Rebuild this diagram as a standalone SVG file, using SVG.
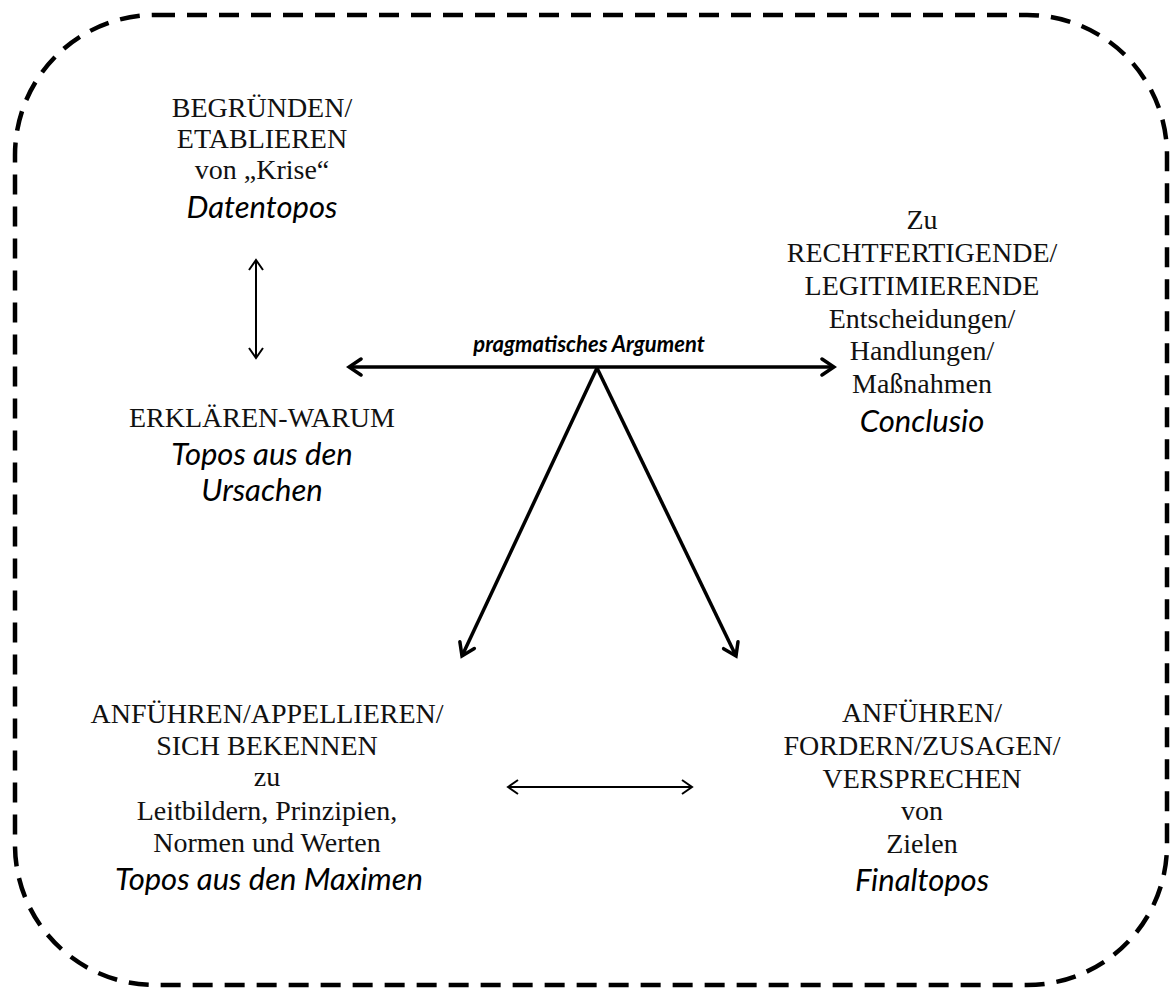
<svg xmlns="http://www.w3.org/2000/svg" width="1175" height="990" viewBox="0 0 1175 990">
<style>
.s{font-family:"Liberation Serif","Times New Roman",serif;font-size:28px;fill:#111;text-anchor:middle}
.i{font-family:Lato,"Open Sans",sans-serif;font-style:italic;font-size:31px;fill:#000;text-anchor:middle}
.lbl{font-family:Lato,"Open Sans",sans-serif;font-style:italic;font-weight:bold;font-size:22px;fill:#000;text-anchor:middle}
.thick{stroke:#000;stroke-width:3.5;fill:none}
.thin{stroke:#000;stroke-width:2;fill:none}
</style>
<defs>
<marker id="hb" markerUnits="userSpaceOnUse" viewBox="0 0 18 22" markerWidth="18" markerHeight="22" refX="15" refY="11" orient="auto-start-reverse">
<path d="M3,3 L15,11 L3,19" fill="none" stroke="#000" stroke-width="3.5" stroke-linecap="round"/>
</marker>
<marker id="hs" markerUnits="userSpaceOnUse" viewBox="0 0 14 18" markerWidth="14" markerHeight="18" refX="12" refY="9" orient="auto-start-reverse">
<path d="M2,2 L12,9 L2,16" fill="none" stroke="#000" stroke-width="2"/>
</marker>
</defs>
<rect x="15" y="15" width="1152" height="970" rx="140" ry="140" fill="none" stroke="#000" stroke-width="4.5" stroke-dasharray="20 12"/>
<g id="connectors">
<line class="thin" x1="256" y1="260" x2="256" y2="358" marker-start="url(#hs)" marker-end="url(#hs)"/>
<line class="thick" x1="349" y1="367" x2="834" y2="367" marker-start="url(#hb)" marker-end="url(#hb)"/>
<line class="thick" x1="597" y1="368" x2="462" y2="656" marker-end="url(#hb)"/>
<line class="thick" x1="597" y1="368" x2="736" y2="656" marker-end="url(#hb)"/>
<line class="thin" x1="508" y1="787" x2="692" y2="787" marker-start="url(#hs)" marker-end="url(#hs)"/>
<text class="lbl" x="589" y="352">pragmatisches Argument</text>
</g>
<g id="datentopos">
<text class="s" x="262" y="117">BEGRÜNDEN/</text>
<text class="s" x="262" y="148">ETABLIEREN</text>
<text class="s" x="262" y="179">von „Krise“</text>
<text class="i" x="262" y="218">Datentopos</text>
</g>
<g id="ursachen">
<text class="s" x="262" y="427">ERKLÄREN-WARUM</text>
<text class="i" x="262" y="465">Topos aus den</text>
<text class="i" x="262" y="501">Ursachen</text>
</g>
<g id="conclusio">
<text class="s" x="922" y="229">Zu</text>
<text class="s" x="922" y="262">RECHTFERTIGENDE/</text>
<text class="s" x="922" y="295">LEGITIMIERENDE</text>
<text class="s" x="922" y="328">Entscheidungen/</text>
<text class="s" x="922" y="360">Handlungen/</text>
<text class="s" x="922" y="393">Maßnahmen</text>
<text class="i" x="922" y="432">Conclusio</text>
</g>
<g id="maximen">
<text class="s" x="267" y="723">ANFÜHREN/APPELLIEREN/</text>
<text class="s" x="267" y="755">SICH BEKENNEN</text>
<text class="s" x="267" y="786">zu</text>
<text class="s" x="267" y="820">Leitbildern, Prinzipien,</text>
<text class="s" x="267" y="852">Normen und Werten</text>
<text class="i" x="269" y="890">Topos aus den Maximen</text>
</g>
<g id="finaltopos">
<text class="s" x="922" y="722">ANFÜHREN/</text>
<text class="s" x="922" y="755">FORDERN/ZUSAGEN/</text>
<text class="s" x="922" y="788">VERSPRECHEN</text>
<text class="s" x="922" y="820">von</text>
<text class="s" x="922" y="853">Zielen</text>
<text class="i" x="922" y="891">Finaltopos</text>
</g>
</svg>
